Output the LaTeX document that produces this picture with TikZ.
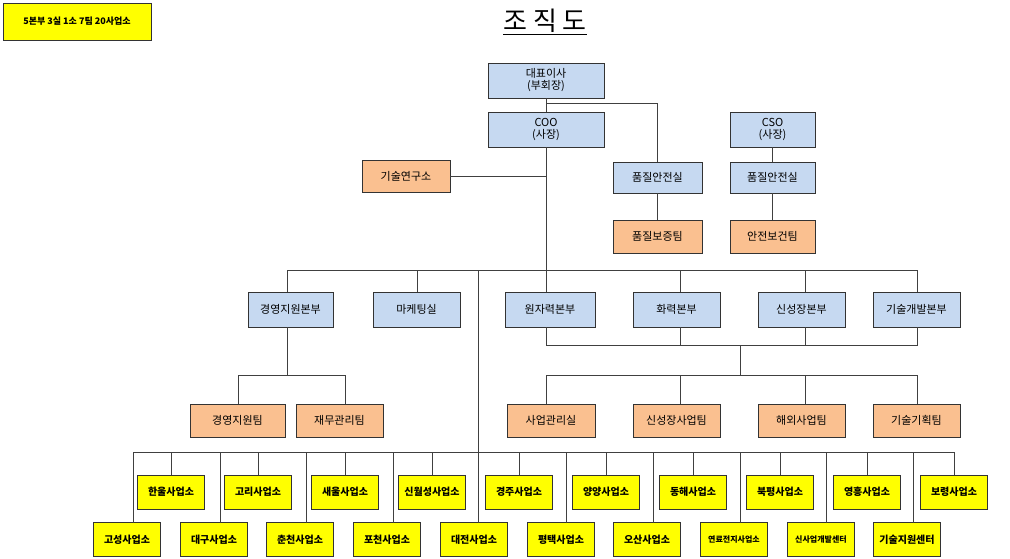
\documentclass[tikz,border=0pt]{standalone}
\usepackage{fontspec}
\setmainfont{Noto Sans CJK KR}
\definecolor{bl}{HTML}{C6D9F1}
\definecolor{or}{HTML}{FAC090}
\definecolor{ye}{HTML}{FFFF00}
\begin{document}
\begin{tikzpicture}[x=1pt,y=-1pt,
 bx/.style={draw=black!80,line width=0.8pt,inner sep=0pt,align=center,font=\fontsize{11}{12}\selectfont},
 bb/.style={bx,fill=bl,minimum width=#1,minimum height=33pt},
 ob/.style={bx,fill=or,minimum width=#1,minimum height=33pt},
 yb/.style={bx,fill=ye,minimum width=67pt,minimum height=34pt,font=\fontsize{10}{11}\selectfont\bfseries},
 ln/.style={draw=black!75,line width=0.7pt}]
\useasboundingbox (0,0) rectangle (1010,558);
\node[bx,fill=ye,minimum width=148pt,minimum height=37pt,font=\fontsize{9}{10}\selectfont\bfseries] (sum) at (77,21.5) {5본부 3실 1소 7팀 20사업소};
\node[font=\fontsize{26}{28}\selectfont] (title) at (545,22) {\underline{조 직 도}};
\node[bb=116pt,minimum height=35pt] (ceo) at (546,80.5) {대표이사\\(부회장)};
\node[bb=116pt,minimum height=35pt] (coo) at (546,129.5) {COO\\(사장)};
\node[bb=85pt,minimum height=35pt] (cso) at (772.5,129.5) {CSO\\(사장)};
\node[ob=88pt,minimum height=32pt] (lab) at (406,176) {기술연구소};
\node[bb=89pt,minimum height=31pt] (qa1) at (657.5,177.5) {품질안전실};
\node[bb=85pt,minimum height=31pt] (qa2) at (772.5,177.5) {품질안전실};
\node[ob=89pt] (qt) at (657.5,236.5) {품질보증팀};
\node[ob=85pt] (st) at (772.5,236.5) {안전보건팀};
\coordinate (c1) at (546,103);
\draw[ln] (c1) -| (qa1);
\draw[ln] (ceo) -- (coo);
\draw[ln] (qa1) -- (qt);
\draw[ln] (cso) -- (qa2);
\draw[ln] (qa2) -- (st);
\coordinate (j1) at (546,176);
\draw[ln] (lab.east) -- (j1);
\coordinate (h2) at (546,270);
\draw[ln] (coo.south) -- (h2);
% row 2
\node[bb=85pt,minimum height=35pt] (b1) at (290.5,309.5) {경영지원본부};
\node[bb=87pt,minimum height=35pt] (b2) at (416.5,309.5) {마케팅실};
\node[bb=90pt,minimum height=35pt] (b3) at (550,309.5) {원자력본부};
\node[bb=87pt,minimum height=35pt] (b4) at (676.5,309.5) {화력본부};
\node[bb=87pt,minimum height=35pt] (b5) at (801.5,309.5) {신성장본부};
\node[bb=87pt,minimum height=35pt] (b6) at (916.5,309.5) {기술개발본부};
\coordinate (hl) at (287,270); \coordinate (hr) at (917,270);
\draw[ln] (hl) -- (hr);
\draw[ln] (hl) -- (287,292);
\foreach \n/\x in {b2/417,b3/546,b4/680,b5/805,b6/917}{\draw[ln] (\x,270) -- (\x,292);}
% orange row
\node[ob=95pt] (t1) at (237.5,420.5) {경영지원팀};
\node[ob=87pt] (t2) at (339.5,420.5) {재무관리팀};
\node[ob=88pt] (t3) at (551,420.5) {사업관리실};
\node[ob=87pt] (t4) at (676.5,420.5) {신성장사업팀};
\node[ob=87pt] (t5) at (801.5,420.5) {해외사업팀};
\node[ob=87pt] (t6) at (916.5,420.5) {기술기획팀};
\draw[ln] (287,327) -- (287,375);
\draw[ln] (238,404) -- (238,375) -- (345,375) -- (345,404);
\draw[ln] (546,327) -- (546,345) -- (917,345) -- (917,327);
\draw[ln] (680,327) -- (680,345);
\draw[ln] (805,327) -- (805,345);
\draw[ln] (740,345) -- (740,375);
\draw[ln] (546,375) -- (917,375);
\foreach \x in {546,680,805,917}{\draw[ln] (\x,375) -- (\x,404);}
% bottom
\foreach \nm/\x/\t in {u1/171/한울사업소,u2/258/고리사업소,u3/345/새울사업소,u4/432/신월성사업소,u5/519/경주사업소,u6/606/양양사업소,u7/693/동해사업소,u8/780/북평사업소,u9/867/영흥사업소,u10/954/보령사업소}{
 \node[yb] (\nm) at (\x,492) {\t};
 \draw[ln] (\x,452) -- (\nm.north);}
\foreach \nm/\x/\t in {l1/127/고성사업소,l2/214/대구사업소,l3/300/춘천사업소,l4/387/포천사업소,l5/474/대전사업소,l6/561/평택사업소,l7/647/오산사업소,l8/734/{\fontsize{8}{9}\selectfont 연료전지사업소},l9/821/{\fontsize{8}{9}\selectfont 신사업개발센터},l10/907/기술지원센터}{
 \node[yb] (\nm) at (\x,539.5) {\t};}
\foreach \nm/\x in {l1/133,l2/220,l3/306,l4/393,l6/566,l7/653,l8/740,l9/826,l10/913}{\draw[ln] (\x,452) -- (\x,523);}
\draw[ln] (133,452) -- (954,452);
\draw[ln] (478,270) -- (478,523);
\end{tikzpicture}
\end{document}
